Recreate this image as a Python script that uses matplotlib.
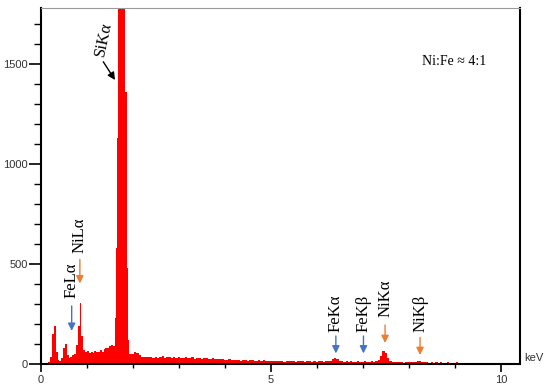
import numpy as np
import matplotlib
matplotlib.use("Agg")
import matplotlib.pyplot as plt
from matplotlib.ticker import MultipleLocator

# ---- data: EDS spectrum (counts per channel) ----
# low-energy part: channels of 0.04 keV starting at 0.00 keV
low_start, low_step = 0.00, 0.04
low_counts = [0, 0, 2, 6, 12, 35, 150, 190, 60, 20, 14, 28, 80, 100, 45, 28, 36, 44,
              50, 95, 190, 305, 140, 70, 58, 64, 56, 62, 54, 66, 58, 60, 72, 62, 76,
              82, 78, 88, 96, 92, 230]
# Si K-alpha region: channels of 0.02 keV starting at 1.64 keV
si_start, si_step = 1.64, 0.02
si_counts = [580, 1130, 2500, 2500, 2500, 2500, 2500, 2500, 2500, 1360, 1360, 560, 480, 120]
# high-energy part: channels of 0.05 keV starting at 1.92 keV
high_start, high_step = 1.92, 0.05
high_counts = [48, 52, 60, 56, 44, 36, 34, 37, 33, 35, 31, 36, 32, 34, 38, 31, 33, 35,
               30, 34, 32, 36, 29, 31, 33, 28, 30, 34, 27, 29, 31, 26, 28, 30, 25, 27,
               29, 24, 26, 23, 25, 22, 20, 23, 19, 21, 18, 22, 17, 19, 21, 16, 18, 20,
               15, 17, 19, 14, 18, 16, 15, 17, 14, 16, 13, 17, 15, 12, 16, 14, 13, 15,
               12, 14, 16, 13, 12, 15, 13, 11, 14, 12, 13, 15, 12, 14, 13, 16, 26, 32,
               24, 15, 13, 12, 14, 11, 13, 12, 10, 13, 11, 12, 14, 12, 10, 13, 11, 14,
               22, 38, 67, 55, 30, 16, 11, 9, 10, 8, 9, 7, 9, 8, 10, 8, 11, 13, 14, 12,
               9, 8, 7, 9, 6, 8, 7, 9, 6, 7, 8, 5, 7, 6, 8, 5, 7, 6, 5, 7, 6, 4, 6, 5,
               7, 4, 5, 6, 4, 5, 3, 5, 4, 6, 3, 4, 3]

# peak labels: text, energy (keV), arrow colour, label bottom, arrow tail, arrow tip (counts)
peak_labels = ["FeL\u03b1", "NiL\u03b1", "FeK\u03b1", "FeK\u03b2", "NiK\u03b1", "NiK\u03b2"]
peak_energy = [0.667, 0.845, 6.41, 7.01, 7.48, 8.24]
peak_color = ["#4472C4", "#ED7D31", "#4472C4", "#4472C4", "#ED7D31", "#ED7D31"]
label_bottom = [330, 555, 161, 161, 236, 161]
arrow_tail = [290, 523, 140, 140, 195, 133]
arrow_tip = [166, 403, 53, 53, 105, 45]

x_ticks = [0, 5, 10]
y_ticks = [0, 500, 1000, 1500]

# ---- build channel edges ----
def edges(start, step, n):
    return np.round(start + step * np.arange(n + 1), 4)

e_low = edges(low_start, low_step, len(low_counts))
e_si = edges(si_start, si_step, len(si_counts))
e_high = edges(high_start, high_step, len(high_counts))
all_edges = np.concatenate([e_low[:-1], e_si[:-1], e_high])
all_counts = np.array(low_counts + si_counts + high_counts, dtype=float)

fig = plt.figure(figsize=(5.5, 3.91), dpi=100)
ax = fig.add_axes([41 / 550, 1 - 364 / 391, (520 - 41) / 550, (364 - 8) / 391])

ax.stairs(all_counts, all_edges, fill=True, color="#FF0000", linewidth=0)

ax.set_xlim(0, 479 / 46)
ax.set_ylim(0, 1780)

ax.set_xticks(x_ticks)
ax.set_yticks(y_ticks)
ax.xaxis.set_minor_locator(MultipleLocator(1))
ax.yaxis.set_minor_locator(MultipleLocator(100))
ax.tick_params(axis="x", which="major", direction="out", length=5.8, width=1.2,
               pad=2, labelsize=8, labelcolor="#333333")
ax.tick_params(axis="x", which="minor", direction="out", length=2.6, width=1.0)
ax.tick_params(axis="y", which="major", direction="out", length=9, width=1.2,
               pad=0.5, labelsize=8, labelcolor="#333333")
ax.tick_params(axis="y", which="minor", direction="out", length=5, width=1.0)
for lab in ax.get_xticklabels() + ax.get_yticklabels():
    lab.set_fontfamily("Liberation Sans")

for s in ["left", "bottom", "right"]:
    ax.spines[s].set_linewidth(1.5)
    ax.spines[s].set_color("black")
ax.spines["top"].set_linewidth(0.8)
ax.spines["top"].set_color("#9a9a9a")

ax.text(1.008, 0.004, "keV", transform=ax.transAxes, fontsize=8,
        family="Liberation Sans", color="#333333", ha="left", va="bottom")

serif = "Liberation Serif"
for txt, e, c, lb, t0, t1 in zip(peak_labels, peak_energy, peak_color,
                                 label_bottom, arrow_tail, arrow_tip):
    ax.text(e, lb, txt, rotation=90, ha="center", va="bottom",
            fontsize=12, family=serif, color="black")
    ax.annotate("", xy=(e, t1), xytext=(e, t0),
                arrowprops=dict(arrowstyle="-|>", color=c, lw=1.0,
                                mutation_scale=11, shrinkA=0, shrinkB=0))

# Si K-alpha label with tilted black arrow
ax.text(1.36, 1530, "SiK\u03b1", rotation=78, ha="center", va="bottom",
        fontsize=12, family=serif, color="black")
ax.annotate("", xy=(1.609, 1420), xytext=(1.354, 1511),
            arrowprops=dict(arrowstyle="-|>", color="black", lw=1.0,
                            mutation_scale=11, shrinkA=0, shrinkB=0))

ax.text(8.98, 1512, "Ni:Fe \u2248 4:1", ha="center", va="center",
        fontsize=10, family=serif, color="black")

fig.savefig("out.png", dpi=100)
